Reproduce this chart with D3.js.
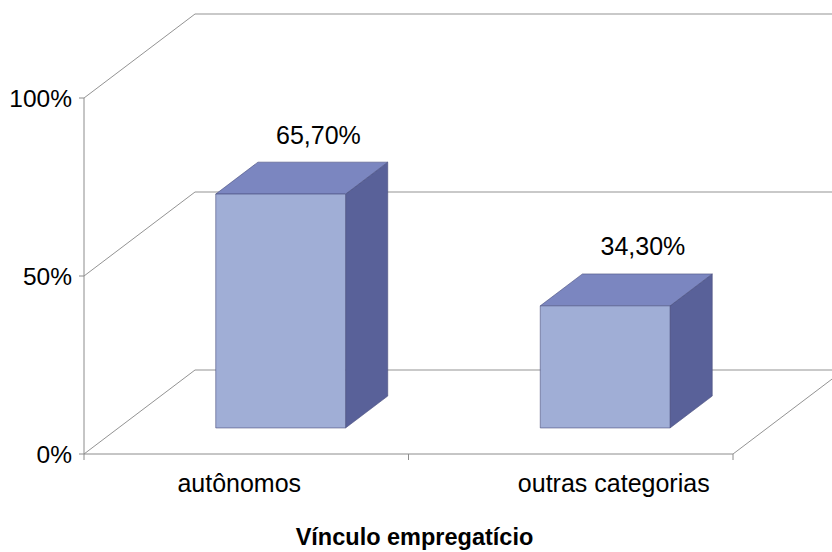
<!DOCTYPE html>
<html>
<head>
<meta charset="utf-8">
<script src="https://cdn.jsdelivr.net/npm/d3@7"></script>
<style>
  html, body { margin: 0; padding: 0; background: #fff; }
  svg { display: block; }
  text { font-family: "Liberation Sans", Arial, sans-serif; fill: #000; }
</style>
</head>
<body>
<svg id="chart" width="832" height="552"></svg>
<script>
// Data
const categories = ["autônomos", "outras categorias"];
const values = [0.657, 0.343];
const yTicks = [0, 0.5, 1];
const axisTitle = "Vínculo empregatício";

// Layout
const W = 832, H = 552;
const x0 = 84, x1 = 733;          // front edge of the floor
const yBottom = 454, yTop = 98;   // 0% and 100% on the front plane
const depthDX = 111, depthDY = 84; // projection of full depth
const barZ0 = 0.31, barZ1 = 0.69;  // bar front/back depth (fraction)
const barWidthFrac = 0.4;
const catLabelNudge = [-7, 43];

const ptBR = d3.formatLocale({ decimal: ",", thousands: ".", grouping: [3], currency: ["R$", ""] });
const fmtValue = ptBR.format(".2%");
const fmtTick = ptBR.format(".0%");

const svg = d3.select("#chart");

const x = d3.scaleBand().domain(categories).range([x0, x1]).padding(0);
const y = d3.scaleLinear().domain([0, 1]).range([yBottom, yTop]);

// project a point at front-plane x, value v, depth z (0 = front, 1 = back)
const P = (px, v, z) => [px + z * depthDX, y(v) - z * depthDY];
const poly = pts => "M" + pts.map(p => p.join(",")).join("L") + "Z";

const grid = svg.append("g").attr("fill", "none").attr("stroke", "#939393").attr("stroke-width", 1);

// left wall diagonals + back wall gridlines
yTicks.forEach(t => {
  const a = P(x0, t, 0), b = P(x0, t, 1);
  grid.append("path").attr("d", `M${a[0]},${a[1]}L${b[0]},${b[1]}L${W + 5},${b[1]}`);
});
// floor right edge
{
  const a = P(x1, 0, 0), b = P(x1, 0, 1);
  grid.append("line").attr("x1", a[0]).attr("y1", a[1]).attr("x2", b[0]).attr("y2", b[1]);
}

// bars
const bars = svg.append("g").attr("stroke", "#4a4f7e").attr("stroke-width", 0.6).attr("stroke-linejoin", "round");
categories.forEach((c, i) => {
  const v = values[i];
  const cx = x(c) + x.bandwidth() / 2;
  const bw = x.bandwidth() * barWidthFrac;
  const L = cx - bw / 2, R = cx + bw / 2;
  // right side
  bars.append("path").attr("fill", "#596199")
    .attr("d", poly([P(R, 0, barZ0), P(R, v, barZ0), P(R, v, barZ1), P(R, 0, barZ1)]));
  // top
  bars.append("path").attr("fill", "#7b86c0")
    .attr("d", poly([P(L, v, barZ0), P(L, v, barZ1), P(R, v, barZ1), P(R, v, barZ0)]));
  // front
  bars.append("path").attr("fill", "#a0aed6")
    .attr("d", poly([P(L, 0, barZ0), P(L, v, barZ0), P(R, v, barZ0), P(R, 0, barZ0)]));

  // value label
  const lp = P(cx, v, 0.65);
  svg.append("text").attr("x", lp[0]).attr("y", lp[1] - 22)
    .attr("text-anchor", "middle").attr("font-size", 25)
    .text(fmtValue(v));

  // category label
  svg.append("text").attr("x", cx + catLabelNudge[i]).attr("y", 492)
    .attr("text-anchor", "middle").attr("font-size", 25)
    .text(c);
});

// axes on the front plane
const axes = svg.append("g").attr("stroke", "#8c8c8c").attr("stroke-width", 1).attr("fill", "none");
axes.append("line").attr("x1", x0).attr("x2", x0).attr("y1", y(0)).attr("y2", y(1));
axes.append("line").attr("x1", x0).attr("x2", x1).attr("y1", y(0)).attr("y2", y(0));
yTicks.forEach(t => {
  axes.append("line").attr("x1", x0 - 5).attr("x2", x0).attr("y1", y(t)).attr("y2", y(t));
});
const xBounds = categories.map(c => x(c)).concat([x1]);
xBounds.forEach(b => {
  axes.append("line").attr("x1", b).attr("x2", b).attr("y1", y(0)).attr("y2", y(0) + 6);
});

// y tick labels
yTicks.forEach(t => {
  svg.append("text").attr("x", x0 - 12).attr("y", y(t) + 9)
    .attr("text-anchor", "end").attr("font-size", 24.5)
    .text(fmtTick(t));
});

// axis title
svg.append("text").attr("x", 414.5).attr("y", 545)
  .attr("text-anchor", "middle").attr("font-size", 23.5).attr("font-weight", "bold")
  .text(axisTitle);
</script>
</body>
</html>
